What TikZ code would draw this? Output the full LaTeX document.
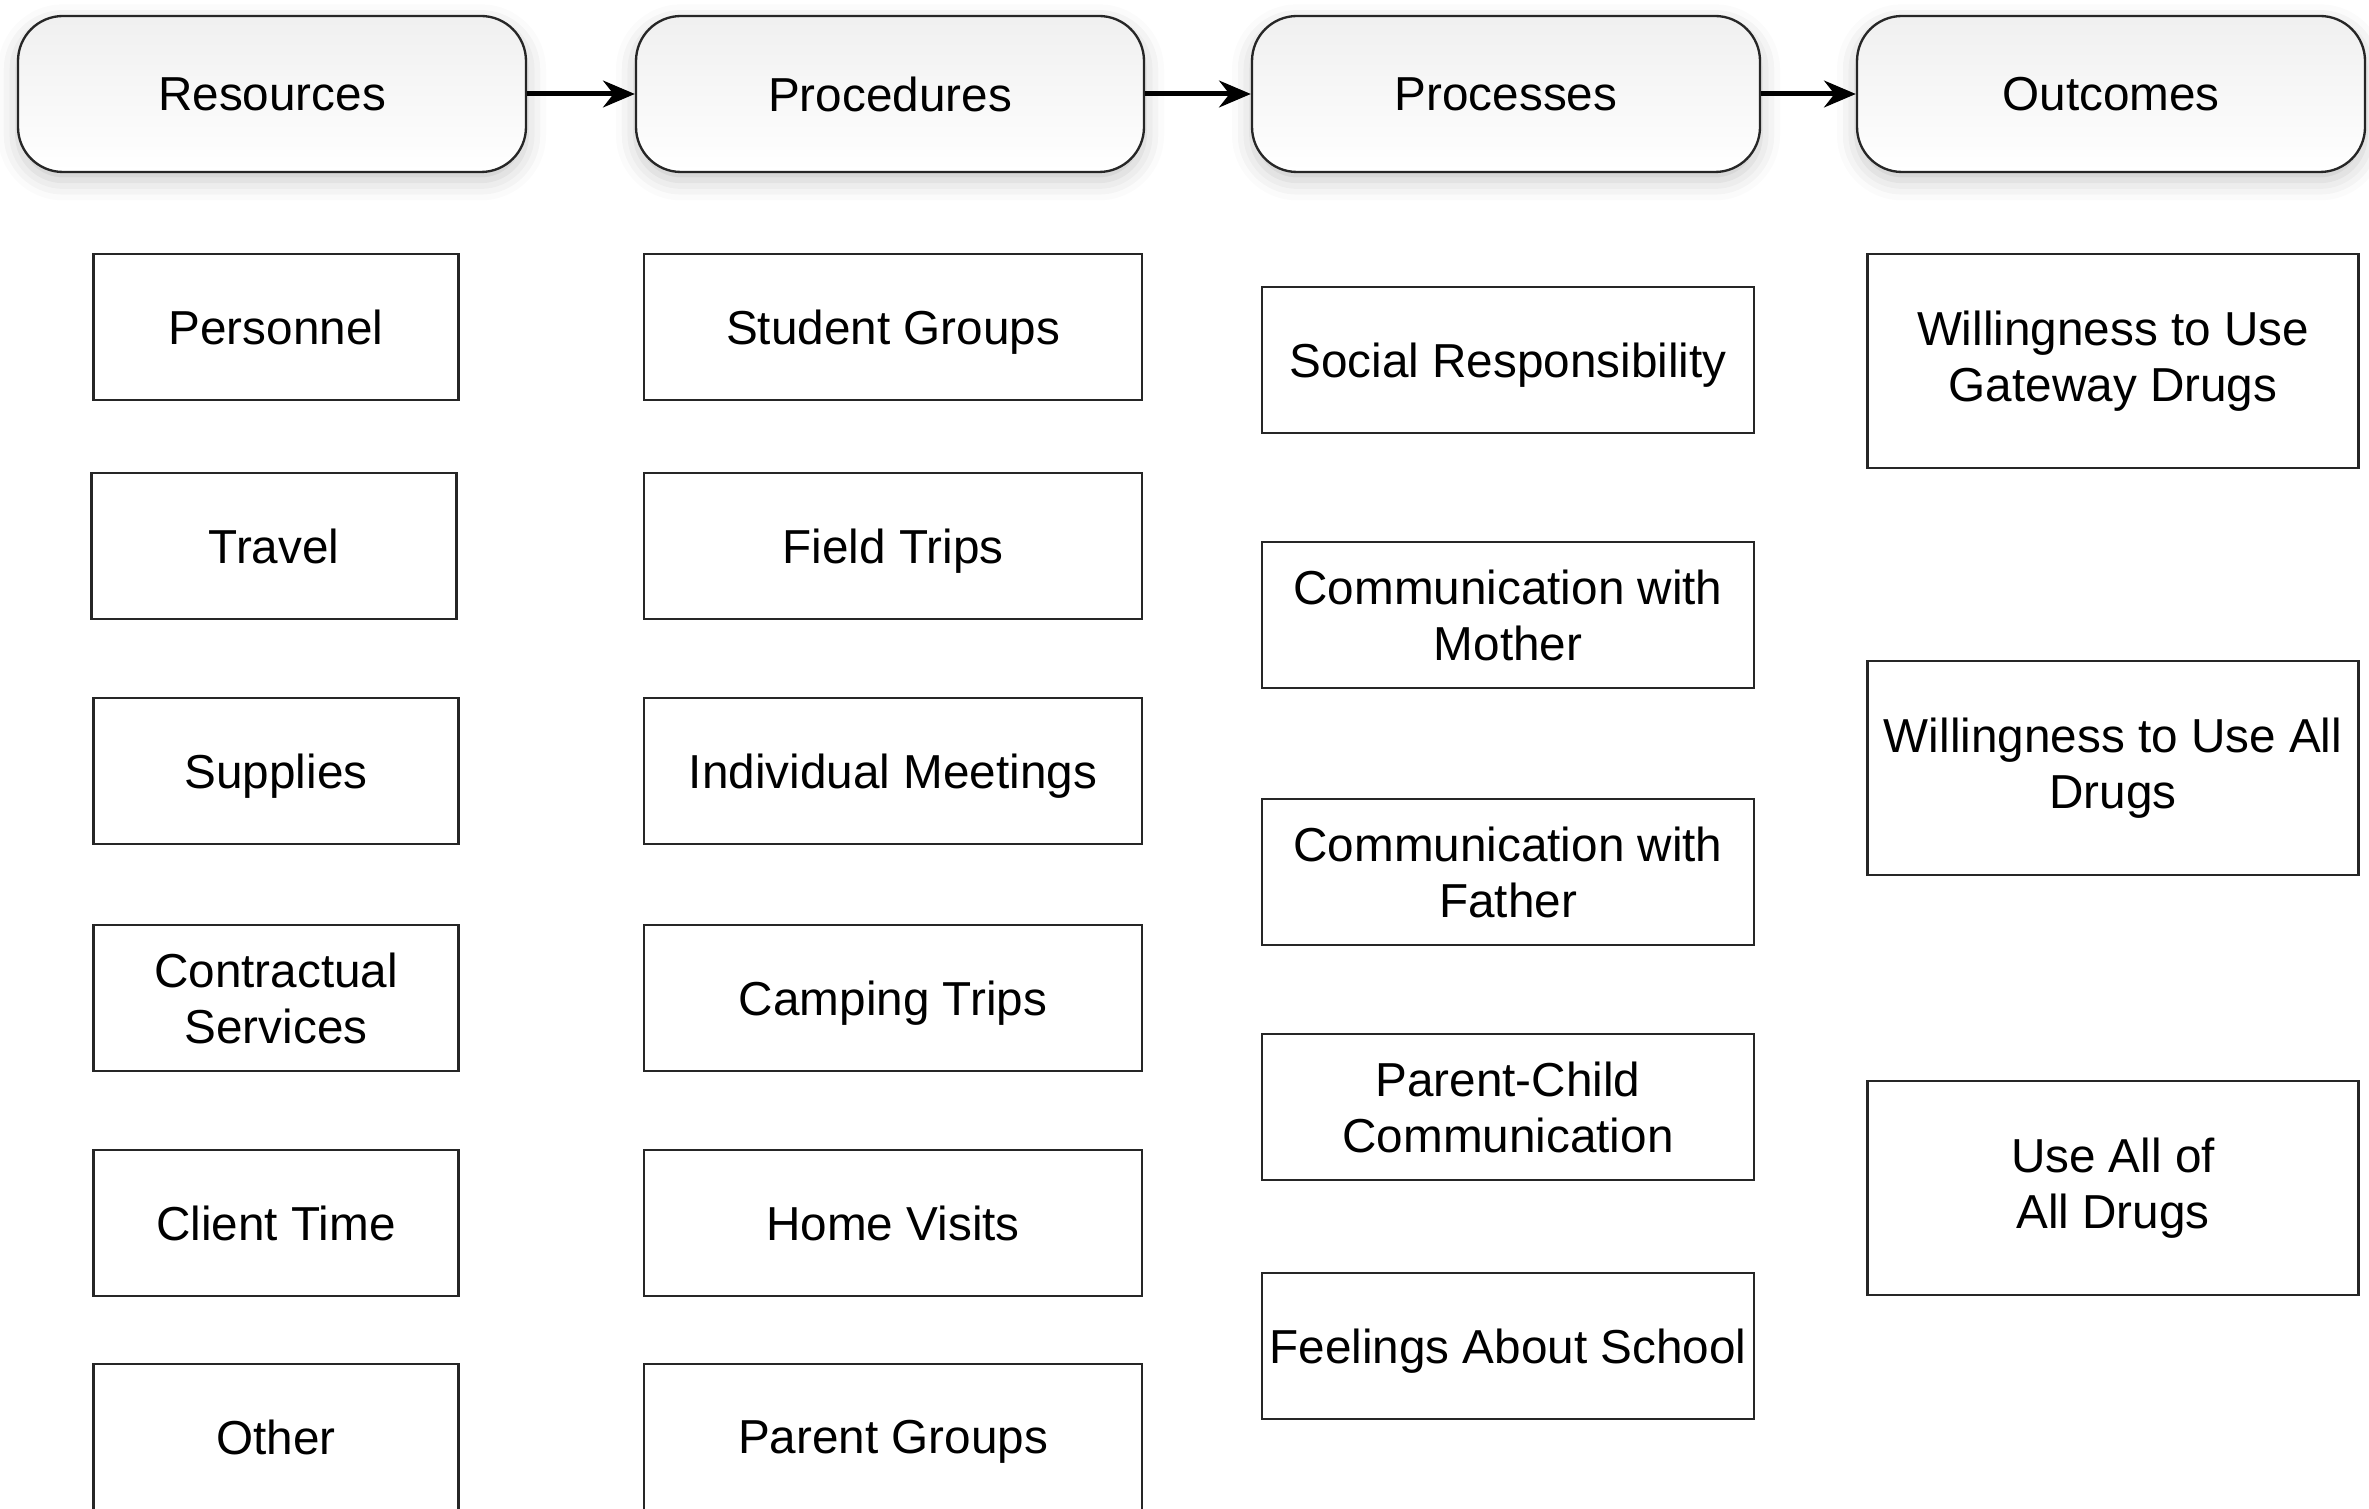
\documentclass[tikz,border=0pt]{standalone}
\usepackage{fontspec}
\setmainfont{Liberation Sans}
\usetikzlibrary{arrows.meta,shadows.blur}

\begin{document}
\begin{tikzpicture}[x=0.3pt,y=0.3pt,yscale=-1,xscale=1,
  head/.style={draw=black!85,line width=0.7pt,rounded corners=13.5pt,
    top color=black!6,bottom color=white,
    blur shadow={shadow xshift=0pt,shadow yshift=-2.5pt,shadow blur radius=6pt,shadow opacity=22},
    minimum width=152.4pt,minimum height=46.8pt,inner sep=0pt,
    font=\fontsize{14.3}{16.8}\selectfont},
  box/.style={draw=black!85,line width=0.7pt,fill=white,align=center,inner sep=0pt,
    minimum height=43.8pt,font=\fontsize{14.3}{16.8}\selectfont},
  flat/.style={text depth=0pt},
  resbox/.style={box,minimum width=109.5pt},
  procbox/.style={box,minimum width=149.4pt},
  probox/.style={box,minimum width=147.6pt},
  outbox/.style={box,minimum width=147.3pt,minimum height=64.2pt},
  flow/.style={-{Stealth[length=9.5pt,width=8pt]},line width=1.5pt,black}]
\useasboundingbox (0,0) rectangle (2369,1509);
\clip (0,0) rectangle (2369,1509);

%Headers
\node[head,flat] (resources) at (272,94) {Resources};
\node[head,flat] (procedures) at (890,94) {Procedures};
\node[head,flat] (processes) at (1506,94) {Processes};
\node[head,flat] (outcomes) at (2111,94) {Outcomes};

%Arrows between headers
\draw[flow] (resources) -- (procedures);
\draw[flow] (procedures) -- (processes);
\draw[flow] (processes) -- (outcomes);

%Resources column
\node[resbox] (personnel) at (276,327) {Personnel};
\node[resbox] (travel) at (274,546) {Travel};
\node[resbox,flat] (supplies) at (276,771) {Supplies};
\node[resbox] (contract) at (276,998) {Contractual\\Services};
\node[resbox] (client) at (276,1223) {Client Time};
\node[resbox] (other) at (276,1437) {Other};

%Procedures column
\node[procbox,flat] (student) at (893,327) {Student Groups};
\node[procbox,flat] (field) at (893,546) {Field Trips};
\node[procbox,flat] (meetings) at (893,771) {Individual Meetings};
\node[procbox,flat] (camping) at (893,998) {Camping Trips};
\node[procbox] (home) at (893,1223) {Home Visits};
\node[procbox,flat] (parent) at (893,1437) {Parent Groups};

%Processes column
\node[probox,flat] (social) at (1508,360) {Social Responsibility};
\node[probox] (mother) at (1508,615) {Communication with\\Mother};
\node[probox] (father) at (1508,872) {Communication with\\Father};
\node[probox] (parentchild) at (1508,1107) {Parent-Child\\Communication};
\node[probox,flat] (school) at (1508,1346) {Feelings About School};

%Outcomes column
\node[outbox] (gateway) at (2113,361) {Willingness to Use\\Gateway Drugs};
\node[outbox] (alldrugs) at (2113,768) {Willingness to Use All\\Drugs};
\node[outbox] (useall) at (2113,1188) {Use All of\\All Drugs};

\end{tikzpicture}
\end{document}
